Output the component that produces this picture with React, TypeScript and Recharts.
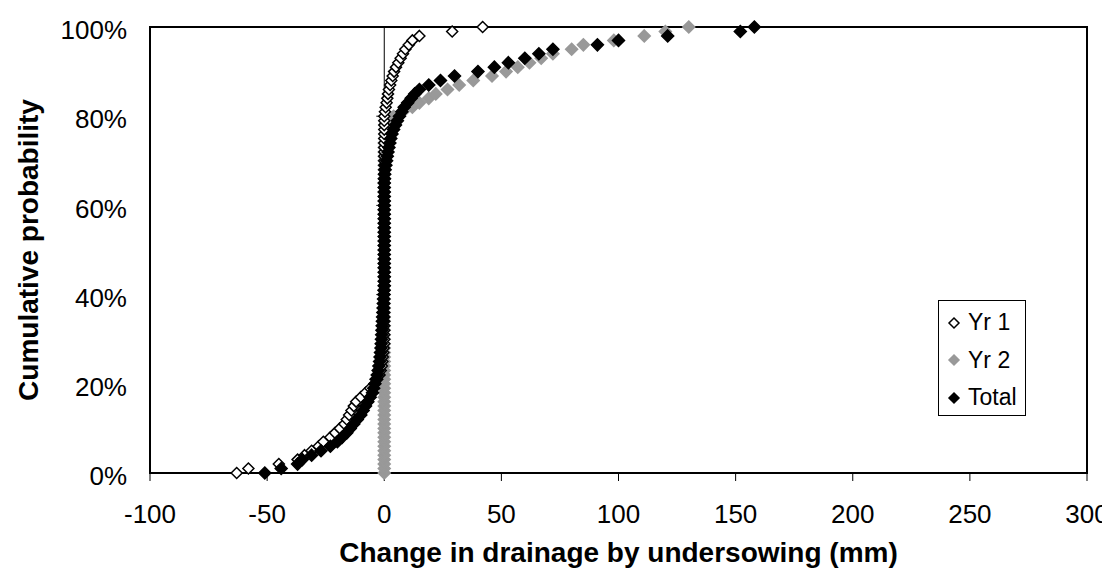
import { ScatterChart, Scatter, XAxis, YAxis, ReferenceLine, ReferenceArea } from "recharts"

const xTicks = [-100, -50, 0, 50, 100, 150, 200, 250, 300]
const yTicks = [0, 0.2, 0.4, 0.6, 0.8, 1]

// change in drainage (mm), sorted, one value per rank
const yr1 = [
  -63, -58, -45, -37, -34, -31, -28, -26, -23, -21,
  -19, -17, -16, -15, -14, -13, -12, -10, -8, -6,
  -4, -3, -2, -1.5, -1, -0.8, -0.6, -0.4, -0.2, 0,
  0, 0, 0, 0, 0, 0, 0, 0, 0, 0,
  0, 0, 0, 0, 0, 0, 0, 0, 0, 0,
  0, 0, 0, 0, 0, 0, 0, 0, 0, 0,
  0, 0, 0, 0, 0, 0, 0, 0, 0, 0,
  0, 0, 0, 0, 0, 0, 0, 0, 0, 0,
  0, 0.3, 0.6, 1, 1.3, 1.6, 2, 2.5, 3, 3.6,
  4.2, 5, 6, 7, 8, 9, 10.5, 12, 15, 29,
  42,
]

const yr2 = [
  0, 0, 0, 0, 0, 0, 0, 0, 0, 0,
  0, 0, 0, 0, 0, 0, 0, 0, 0, 0,
  0, 0, 0, 0, 0, 0, 0, 0, 0, 0,
  0, 0, 0, 0, 0, 0, 0, 0, 0, 0,
  0, 0, 0, 0, 0, 0, 0, 0, 0, 0,
  0, 0, 0, 0, 0, 0, 0, 0, 0, 0,
  0, 0, 0, 0, 0, 0, 0, 0, 0, 0,
  0, 0, 0, 0, 0, 0.2, 0.5, 0.8, 1.2, 2,
  4, 8, 12, 15, 19, 22, 27, 32, 38, 46,
  52, 57, 62, 67, 72, 80, 85, 98, 111, 120,
  130,
]

const total = [
  -51, -44, -37, -35, -31, -27, -23, -20, -18, -16,
  -14.5, -13, -11.5, -10, -9, -8, -7, -6, -5, -4.5,
  -4, -3.5, -3, -2.6, -2.3, -2, -1.8, -1.6, -1.4, -1.3,
  -1.2, -1.1, -1, -0.9, -0.8, -0.7, -0.6, -0.5, -0.4, -0.3,
  -0.2, -0.1, 0, 0, 0, 0, 0, 0, 0, 0,
  0, 0, 0, 0, 0, 0, 0, 0, 0, 0,
  0, 0, 0, 0, 0, 0, 0.1, 0.2, 0.4, 0.7,
  1, 1.3, 1.6, 2, 2.4, 2.8, 3.3, 4, 4.8, 5.6,
  6.5, 7.5, 8.5, 10, 11.5, 13, 15, 19, 24, 30,
  40, 47, 53, 60, 66, 72, 91, 100, 121, 152,
  158,
]

// cumulative probability from rank
const toPoints = (vals: number[]) => vals.map((v, i) => ({ x: v, y: i / (vals.length - 1) }))

const font = "'Liberation Sans', Arial, sans-serif"
const grey = "#999999"

const diamond = (fill: string, stroke: string, r: number) => (props: any) => {
  const { cx, cy } = props
  if (cx == null || cy == null) return <g />
  return (
    <path
      d={`M${cx},${cy - r}L${cx + r},${cy}L${cx},${cy + r}L${cx - r},${cy}Z`}
      fill={fill}
      stroke={stroke}
      strokeWidth={1.5}
    />
  )
}

const legendItems = [
  { name: "Yr 1", fill: "#fff", stroke: "#000" },
  { name: "Yr 2", fill: grey, stroke: grey },
  { name: "Total", fill: "#000", stroke: "#000" },
]

function LegendBox() {
  return (
    <div
      style={{
        position: "absolute",
        left: 930,
        top: 292,
        width: 88,
        height: 116,
        border: "1px solid #000",
        background: "#fff",
        fontFamily: font,
        fontSize: 23,
        paddingTop: 3,
        boxSizing: "border-box",
      }}
    >
      {legendItems.map((it) => (
        <div key={it.name} style={{ display: "flex", alignItems: "center", height: 37.5 }}>
          <svg width={14} height={14} style={{ marginLeft: 8, marginRight: 7 }}>
            <path d="M7,2L12,7L7,12L2,7Z" fill={it.fill} stroke={it.stroke} strokeWidth={1.5} />
          </svg>
          <span>{it.name}</span>
        </div>
      ))}
    </div>
  )
}

export default function App() {
  return (
    <div style={{ position: "relative", width: 1102, height: 564 }}>
      <ScatterChart width={1102} height={564} margin={{ top: 19, right: 23, bottom: 0, left: 0 }}>
        <XAxis
          type="number"
          dataKey="x"
          domain={[-100, 300]}
          ticks={xTicks}
          allowDataOverflow
          axisLine={{ stroke: "#000", strokeWidth: 2 }}
          tickLine={{ stroke: "#000" }}
          tickSize={8}
          tickMargin={24}
          height={99}
          tick={{ fontSize: 26, fill: "#000", fontFamily: font }}
          label={{
            content: (p: any) => {
              const vb = p.viewBox
              return (
                <text
                  x={vb.x + vb.width / 2}
                  y={vb.y + 79}
                  textAnchor="middle"
                  dominantBaseline="central"
                  fontFamily={font}
                  fontSize={28}
                  fontWeight="bold"
                  fill="#000"
                >
                  Change in drainage by undersowing (mm)
                </text>
              )
            },
          }}
        />
        <YAxis
          type="number"
          dataKey="y"
          domain={[0, 1]}
          ticks={yTicks}
          width={142}
          axisLine={false}
          tickLine={false}
          tickSize={0}
          tickMargin={23}
          tickFormatter={(v: number) => `${Math.round(v * 100)}%`}
          tick={{ fontSize: 26, fill: "#000", fontFamily: font, dy: 3 }}
          label={{
            content: (p: any) => {
              const vb = p.viewBox
              const x = vb.x + 20
              const y = vb.y + vb.height / 2
              return (
                <text
                  x={x}
                  y={y}
                  transform={`rotate(-90 ${x} ${y})`}
                  textAnchor="middle"
                  dominantBaseline="central"
                  fontFamily={font}
                  fontSize={28}
                  fontWeight="bold"
                  fill="#000"
                >
                  Cumulative probability
                </text>
              )
            },
          }}
        />
        <ReferenceArea x1={-100} x2={300} y1={0} y2={1} fill="none" stroke="#000" strokeWidth={2} />
        <ReferenceLine x={0} stroke="#000" strokeWidth={1} />
        {yTicks.map((t) => (
          <ReferenceLine
            key={t}
            segment={[
              { x: -3.4, y: t },
              { x: 0, y: t },
            ]}
            stroke="#000"
            strokeWidth={1}
          />
        ))}
        <Scatter name="Yr 2" data={toPoints(yr2)} shape={diamond(grey, grey, 6)} isAnimationActive={false} />
        <Scatter name="Yr 1" data={toPoints(yr1)} shape={diamond("#fff", "#000", 5.5)} isAnimationActive={false} />
        <Scatter name="Total" data={toPoints(total)} shape={diamond("#000", "#000", 6)} isAnimationActive={false} />
      </ScatterChart>
      <LegendBox />
    </div>
  )
}
